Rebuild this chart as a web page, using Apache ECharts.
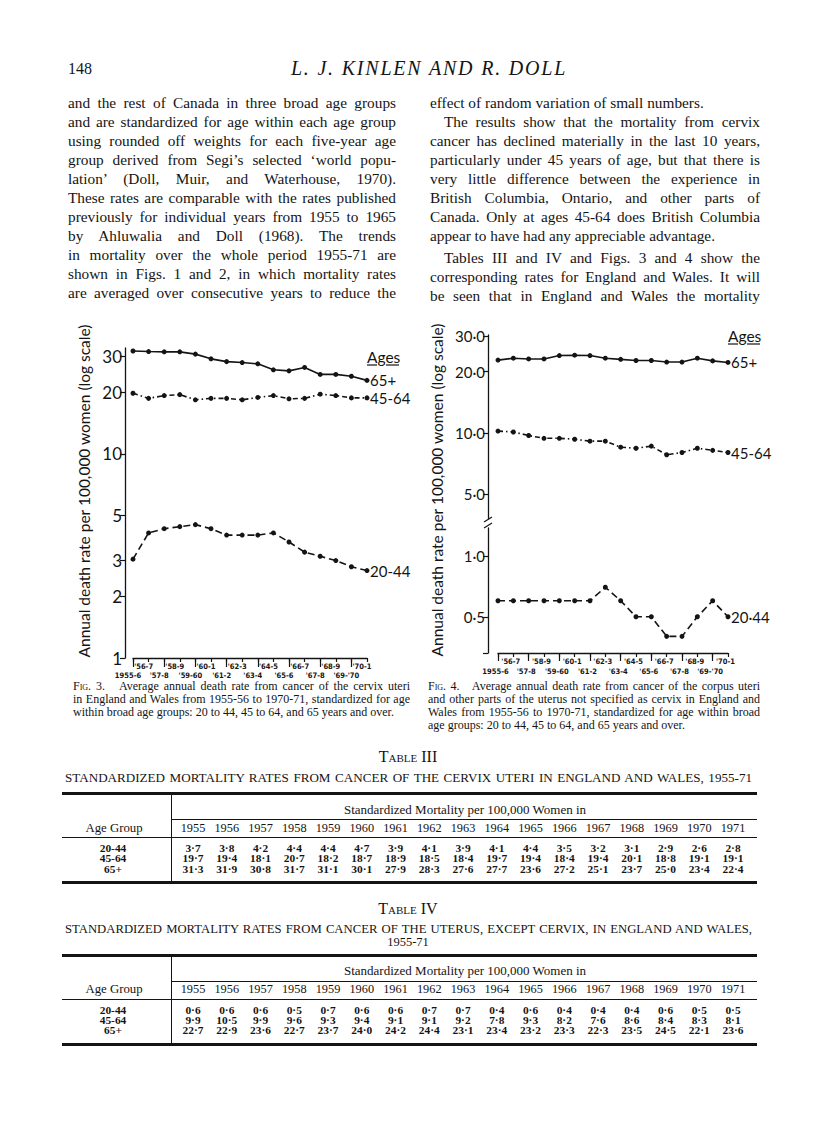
<!DOCTYPE html>
<html>
<head>
<meta charset="utf-8">
<script src="https://cdn.jsdelivr.net/npm/echarts@6/dist/echarts.min.js"></script>
<style>
html,body{margin:0;padding:0;background:#fff;}
#page{position:relative;width:816px;height:1148px;overflow:hidden;font-family:'Liberation Serif','Times New Roman',serif;color:#141414;background:#fff;}
#chart{position:absolute;left:0;top:0;width:816px;height:1148px;}
.t{position:absolute;white-space:nowrap;}
.rule{position:absolute;background:#141414;}
.sc{font-variant:small-caps;}
</style>
</head>
<body>
<div id="page">
  <div id="chart"></div>
  <div id="txt"></div>
</div>
<script>
// ---------------- DATA ----------------
const periods = ["1955-6","'56-7","'57-8","'58-9","'59-60","'60-1","'61-2","'62-3","'63-4","'64-5","'65-6","'66-7","'67-8","'68-9","'69-'70","'70-1"];
// Fig. 3 (cervix uteri), rates per 100,000
const fig3Age65 = [31.9, 31.7, 31.6, 31.6, 30.8, 29.2, 28.3, 28.0, 27.6, 25.8, 25.5, 26.5, 24.5, 24.5, 24.0, 22.9];
const fig3Age45 = [19.8, 18.7, 19.3, 19.5, 18.4, 18.7, 18.7, 18.4, 18.9, 19.3, 18.6, 18.7, 19.6, 19.3, 18.8, 18.8];
const fig3Age20 = [3.05, 4.1, 4.3, 4.4, 4.5, 4.3, 4.0, 4.0, 4.0, 4.1, 3.7, 3.3, 3.15, 3.0, 2.8, 2.68];
const fig3Ticks = [1, 2, 3, 5, 10, 20, 30];
// Fig. 4 (corpus uteri etc.)
const fig4Age65 = [22.8, 23.3, 23.1, 23.1, 24.0, 24.1, 24.0, 23.3, 23.0, 22.7, 22.7, 22.3, 22.3, 23.3, 22.6, 22.2];
const fig4Age45 = [10.2, 10.1, 9.7, 9.4, 9.4, 9.3, 9.1, 9.1, 8.5, 8.4, 8.6, 7.8, 8.0, 8.4, 8.2, 8.0];
const fig4Age20 = [0.6, 0.6, 0.6, 0.6, 0.6, 0.6, 0.6, 0.7, 0.6, 0.5, 0.5, 0.4, 0.4, 0.5, 0.6, 0.5];
const fig4UpperTicks = [5, 10, 20, 30];
const fig4LowerLabels = [0.5, 1.0];
const fig4LowerTicks = [0.331, 0.5, 1.0];

// Tables
const years = [1955,1956,1957,1958,1959,1960,1961,1962,1963,1964,1965,1966,1967,1968,1969,1970,1971];
const ageGroups = ["20-44","45-64","65+"];
const t3Age20 = [3.7,3.8,4.2,4.4,4.4,4.7,3.9,4.1,3.9,4.1,4.4,3.5,3.2,3.1,2.9,2.6,2.8];
const t3Age45 = [19.7,19.4,18.1,20.7,18.2,18.7,18.9,18.5,18.4,19.7,19.4,18.4,19.4,20.1,18.8,19.1,19.1];
const t3Age65 = [31.3,31.9,30.8,31.7,31.1,30.1,27.9,28.3,27.6,27.7,23.6,27.2,25.1,23.7,25.0,23.4,22.4];
const t4Age20 = [0.6,0.6,0.6,0.5,0.7,0.6,0.6,0.7,0.7,0.4,0.6,0.4,0.4,0.4,0.6,0.5,0.5];
const t4Age45 = [9.9,10.5,9.9,9.6,9.3,9.4,9.1,9.1,9.2,7.8,9.3,8.2,7.6,8.6,8.4,8.3,8.1];
const t4Age65 = [22.7,22.9,23.6,22.7,23.7,24.0,24.2,24.4,23.1,23.4,23.2,23.3,22.3,23.5,24.5,22.1,23.6];

const leftLines = [
 "and the rest of Canada in three broad age groups",
 "and are standardized for age within each age group",
 "using rounded off weights for each five-year age",
 "group derived from Segi\u2019s selected \u2018world popu-",
 "lation\u2019 (Doll, Muir, and Waterhouse, 1970).",
 "These rates are comparable with the rates published",
 "previously for individual years from 1955 to 1965",
 "by Ahluwalia and Doll (1968). The trends",
 "in mortality over the whole period 1955-71 are",
 "shown in Figs. 1 and 2, in which mortality rates",
 "are averaged over consecutive years to reduce the"
];
const rightLines = [
 ["effect of random variation of small numbers.",0,0],
 ["The results show that the mortality from cervix",1,1],
 ["cancer has declined materially in the last 10 years,",0,1],
 ["particularly under 45 years of age, but that there is",0,1],
 ["very little difference between the experience in",0,1],
 ["British Columbia, Ontario, and other parts of",0,1],
 ["Canada. Only at ages 45-64 does British Columbia",0,1],
 ["appear to have had any appreciable advantage.",0,0],
 ["Tables III and IV and Figs. 3 and 4 show the",1,1],
 ["corresponding rates for England and Wales. It will",0,1],
 ["be seen that in England and Wales the mortality",0,1]
];

// ---------------- TEXT ----------------
const box = document.getElementById('txt');
function put(html, x, y, o) {
  o = o || {};
  const d = document.createElement('div');
  d.className = 't';
  const size = o.size || 15;
  const lh = o.lh || Math.round(size * 1.3);
  d.style.fontSize = size + 'px';
  d.style.lineHeight = lh + 'px';
  d.style.height = lh + 'px';
  d.style.top = (y - lh / 2) + 'px';
  if (o.w) d.style.width = o.w + 'px';
  if (o.center) {
    d.style.left = (x - o.w / 2) + 'px';
    d.style.textAlign = 'center';
  } else {
    d.style.left = x + 'px';
  }
  if (o.justify) { d.style.textAlign = 'justify'; d.style.textAlignLast = 'justify'; }
  if (o.italic) d.style.fontStyle = 'italic';
  if (o.bold) d.style.fontWeight = 'bold';
  if (o.ls) d.style.letterSpacing = o.ls + 'px';
  d.innerHTML = html;
  box.appendChild(d);
  return d;
}
function rule(x, y, w, h) {
  const d = document.createElement('div');
  d.className = 'rule';
  d.style.left = x + 'px'; d.style.top = y + 'px';
  d.style.width = w + 'px'; d.style.height = h + 'px';
  box.appendChild(d);
}

put('148', 68, 68, {size: 16});
put('L. J. KINLEN AND R. DOLL', 429, 68, {size: 20, italic: true, center: true, w: 360, ls: 1.8});

leftLines.forEach((s, i) => put(s, 68, 103 + 18.95 * i, {size: 15.3, lh: 18, w: 328, justify: true}));
rightLines.forEach((r, i) => {
  const y = 103 + 18.95 * i + (i >= 8 ? 3 : 0);
  const ind = r[1] ? 14 : 0;
  put(r[0], 430 + ind, y, {size: 15.3, lh: 18, w: 330 - ind, justify: !!r[2]});
});

// captions
const cap3 = [
 ['<span class="sc">Fig. 3.</span>&nbsp;&nbsp; Average annual death rate from cancer of the cervix uteri', 1],
 ['in England and Wales from 1955-56 to 1970-71, standardized for age', 1],
 ['within broad age groups: 20 to 44, 45 to 64, and 65 years and over.', 0]
];
cap3.forEach((c, i) => put(c[0], 73, 686 + 13 * i, {size: 12, lh: 12.5, w: 337, justify: !!c[1]}));
const cap4 = [
 ['<span class="sc">Fig. 4.</span>&nbsp;&nbsp; Average annual death rate from cancer of the corpus uteri', 1],
 ['and other parts of the uterus not specified as cervix in England and', 1],
 ['Wales from 1955-56 to 1970-71, standardized for age within broad', 1],
 ['age groups: 20 to 44, 45 to 64, and 65 years and over.', 0]
];
cap4.forEach((c, i) => put(c[0], 428, 686 + 13 * i, {size: 12, lh: 12.5, w: 332, justify: !!c[1]}));

// tables
function fmt(v) { return v.toFixed(1).replace('.', '\u00b7'); }
const colX = j => 193 + 33.75 * j;
function table(top, titleLines, titleSize, rows) {
  put('<span class="sc">Table ' + titleLines[0] + '</span>', 408, top, {size: 16, center: true, w: 200});
  let y = top + 21;
  put(titleLines[1], 65, y, {size: titleSize, lh: 13, w: 687, justify: true});
  let r0;
  if (titleLines[2]) { y += 12.5; put(titleLines[2], 408, y, {size: 12.5, lh: 12, w: 100, center: true}); r0 = y + 12; }
  else r0 = y + 15;
  rule(62, r0, 695, 3);
  put('Standardized Mortality per 100,000 Women in', 465, r0 + 17, {size: 13, lh: 13, w: 320, center: true});
  rule(172, r0 + 27, 585, 1);
  put('Age Group', 114, r0 + 36, {size: 12.8, lh: 13, w: 100, center: true});
  years.forEach((yr, j) => put(String(yr), colX(j), r0 + 36, {size: 12.3, lh: 13, w: 34, center: true}));
  rule(62, r0 + 45, 695, 1);
  rows.forEach((arr, k) => {
    const ry = r0 + 56 + 10.4 * k;
    put(ageGroups[k], 113, ry, {size: 11.4, lh: 10, w: 60, center: true, bold: true});
    arr.forEach((v, j) => put(fmt(v), colX(j), ry, {size: 11.4, lh: 10, w: 34, center: true, bold: true}));
  });
  const rb = r0 + 89;
  rule(62, rb, 695, 3);
  rule(171, r0, 1, rb - r0);
}
table(756, ['III', 'STANDARDIZED MORTALITY RATES FROM CANCER OF THE CERVIX UTERI IN ENGLAND AND WALES, 1955-71'], 13.1, [t3Age20, t3Age45, t3Age65]);
table(908, ['IV', 'STANDARDIZED MORTALITY RATES FROM CANCER OF THE UTERUS, EXCEPT CERVIX, IN ENGLAND AND WALES,', '1955-71'], 12.7, [t4Age20, t4Age45, t4Age65]);

// ---------------- CHARTS ----------------
const ink = '#141414';
const fontAxis = "Lato, 'Noto Sans', sans-serif";
const tickFont = "'Liberation Sans Narrow', 'DejaVu Sans Condensed', 'Liberation Sans', sans-serif";

function catAxis(gridIndex, parity, margin, tickLen, tickInterval, showLine, padRight, show) {
  return {
    type: 'category', gridIndex: gridIndex, data: periods, boundaryGap: false, position: 'bottom',
    show: show !== false,
    axisLine: {show: showLine, lineStyle: {color: ink, width: 1.3}},
    axisTick: {show: true, interval: tickInterval, length: tickLen, lineStyle: {color: ink, width: 1.2}},
    axisLabel: {show: true, interval: function (i) { return i % 2 === parity; }, margin: margin,
      fontSize: 7.5, fontWeight: 'bold', fontFamily: tickFont, color: ink, align: 'center',
      padding: [0, padRight, 0, 0]},
    splitLine: {show: false}
  };
}
function logAxis(gridIndex, min, max, offset, ticks, labels, fs, fmtFn) {
  return {
    type: 'log', logBase: 10, gridIndex: gridIndex, min: min, max: max, offset: offset,
    axisLine: {show: true, lineStyle: {color: ink, width: 1.3}},
    axisTick: {show: true, length: 5, customValues: ticks, lineStyle: {color: ink, width: 1.2}},
    axisLabel: {show: true, customValues: labels, margin: 3, fontSize: fs, fontFamily: fontAxis, color: ink,
      formatter: fmtFn},
    splitLine: {show: false}, minorTick: {show: false}, minorSplitLine: {show: false}
  };
}
function lineSeries(xi, yi, data, dash, label) {
  return {
    type: 'line', xAxisIndex: xi, yAxisIndex: yi, data: data,
    symbol: 'circle', symbolSize: 5, showSymbol: true, silent: true,
    itemStyle: {color: ink},
    lineStyle: {color: ink, width: 1.6, type: dash},
    endLabel: {show: true, formatter: label, distance: 3, fontSize: 15, fontFamily: fontAxis, color: ink}
  };
}

const chart = echarts.init(document.getElementById('chart'), null, {renderer: 'svg', width: 816, height: 1148});
const dashDot = [5, 3, 1.5, 3];
const dashed = [7, 4];
chart.setOption({
  animation: false,
  backgroundColor: 'transparent',
  grid: [
    {left: 133, right: 449, top: 348, bottom: 490, outerBoundsMode: 'none'},
    {left: 498, right: 88, top: 335, bottom: 1148 - 518.7, outerBoundsMode: 'none'},
    {left: 498, right: 88, top: 528, bottom: 495, outerBoundsMode: 'none'}
  ],
  xAxis: [
    catAxis(0, 1, 4, 4, 0, true, 10),
    catAxis(0, 0, 13.5, 9, 1, false, 10),
    catAxis(1, 0, 6, 4, 0, false, 0, false),
    catAxis(2, 1, 4.5, 4, 0, true, 5),
    catAxis(2, 0, 14.5, 8, 1, false, 5)
  ],
  yAxis: [
    logAxis(0, 1, 33, 8, fig3Ticks, fig3Ticks, 17, function (v) { return String(Math.round(v)); }),
    logAxis(1, 3.78, 30.3, 10, fig4UpperTicks, fig4UpperTicks, 15, function (v) { return v.toFixed(1).replace('.', '\u00b7'); }),
    logAxis(2, 0.331, 1.374, 10, fig4LowerTicks, fig4LowerLabels, 15, function (v) { return v.toFixed(1).replace('.', '\u00b7'); })
  ],
  series: [
    lineSeries(0, 0, fig3Age65, 'solid', '65+'),
    lineSeries(0, 0, fig3Age45, dashDot, '45-64'),
    lineSeries(0, 0, fig3Age20, dashed, '20-44'),
    lineSeries(2, 1, fig4Age65, 'solid', '65+'),
    lineSeries(2, 1, fig4Age45, dashDot, '45-64'),
    lineSeries(3, 2, fig4Age20, dashed, '20\u00b744')
  ],
  graphic: [
    {type: 'text', x: 84, y: 491, rotation: Math.PI / 2, silent: true,
     style: {text: 'Annual death rate per 100,000 women (log scale)', fontSize: 15.5, fontFamily: fontAxis, fill: ink, align: 'center', verticalAlign: 'middle'}},
    {type: 'text', x: 437, y: 490, rotation: Math.PI / 2, silent: true,
     style: {text: 'Annual death rate per 100,000 women (log scale)', fontSize: 15.5, fontFamily: fontAxis, fill: ink, align: 'center', verticalAlign: 'middle'}},
    {type: 'text', x: 367, y: 357, silent: true,
     style: {text: 'Ages', fontSize: 15.5, fontFamily: fontAxis, fill: ink, align: 'left', verticalAlign: 'middle'}},
    {type: 'line', silent: true, shape: {x1: 367, y1: 365, x2: 377, y2: 365}, style: {stroke: ink, lineWidth: 1.2}},
    {type: 'line', silent: true, shape: {x1: 386, y1: 365, x2: 399, y2: 365}, style: {stroke: ink, lineWidth: 1.2}},
    {type: 'text', x: 728, y: 336, silent: true,
     style: {text: 'Ages', fontSize: 15.5, fontFamily: fontAxis, fill: ink, align: 'left', verticalAlign: 'middle'}},
    {type: 'line', silent: true, shape: {x1: 728, y1: 344, x2: 738, y2: 344}, style: {stroke: ink, lineWidth: 1.2}},
    {type: 'line', silent: true, shape: {x1: 747, y1: 344, x2: 760, y2: 344}, style: {stroke: ink, lineWidth: 1.2}},
    // axis break marks
    {type: 'line', silent: true, shape: {x1: 484, y1: 522, x2: 492, y2: 517}, style: {stroke: ink, lineWidth: 1.2}},
    {type: 'line', silent: true, shape: {x1: 484, y1: 528, x2: 492, y2: 523}, style: {stroke: ink, lineWidth: 1.2}}
  ]
});
</script>
</body>
</html>
